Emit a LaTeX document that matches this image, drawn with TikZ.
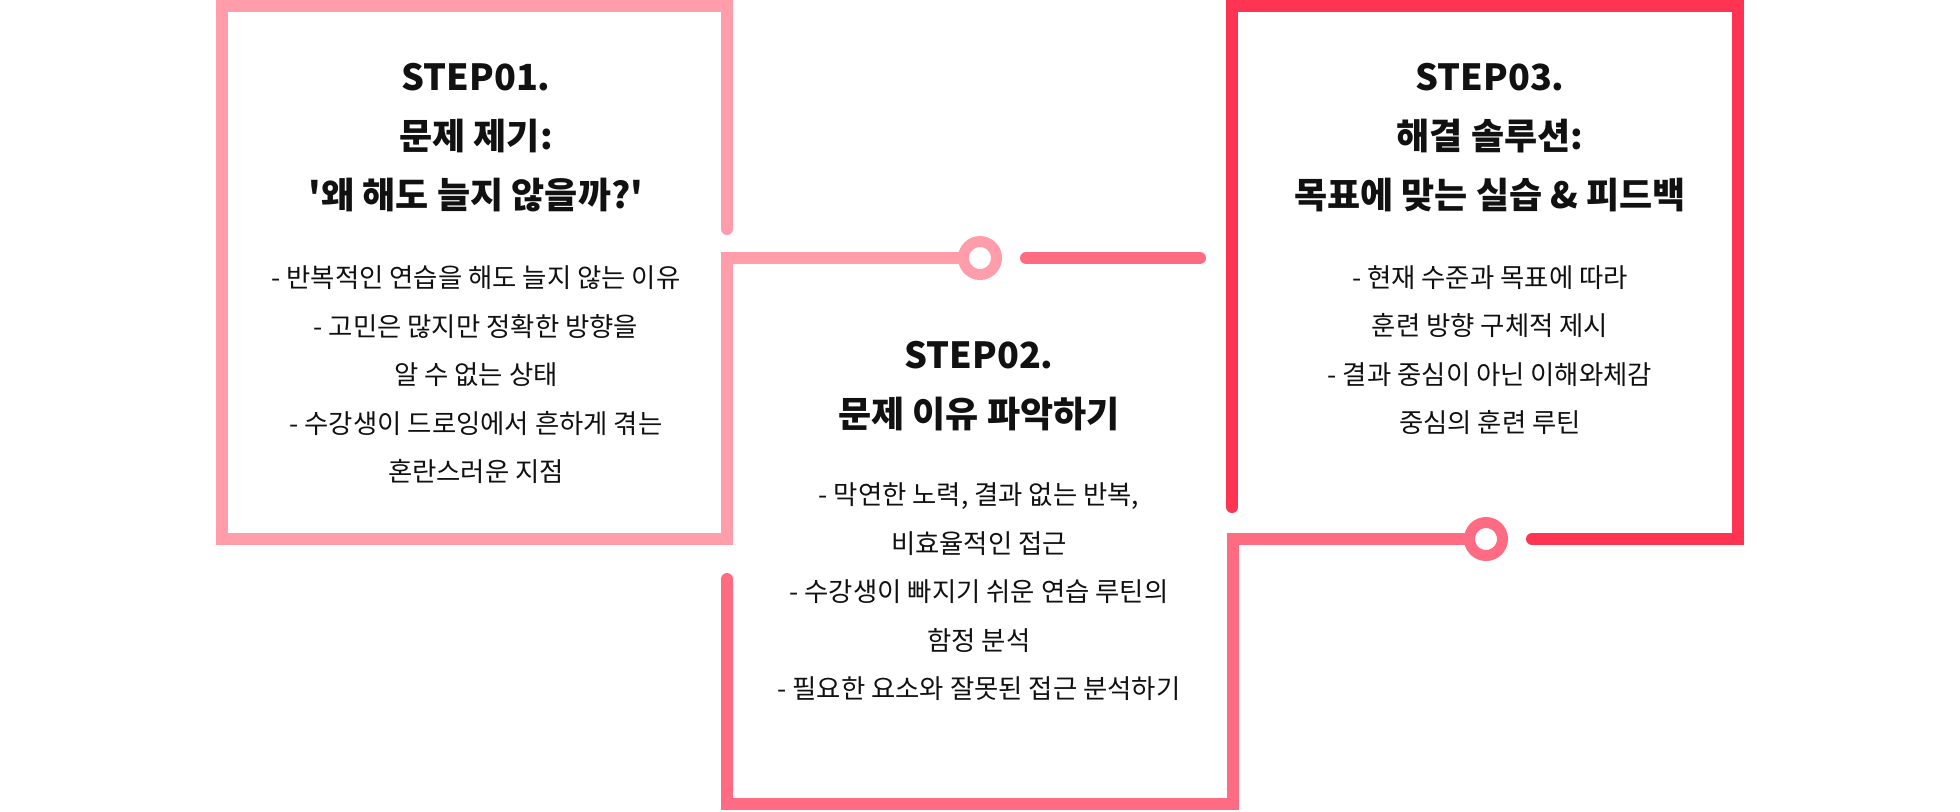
\documentclass[tikz,border=0pt]{standalone}
\usepackage{fontspec}
\usepackage{xcolor}
\newfontfamily\krfont{Noto Sans CJK KR}

\definecolor{stepA}{HTML}{FF9DAB}
\definecolor{stepB}{HTML}{FF6B82}
\definecolor{stepC}{HTML}{FF3453}
\definecolor{ink}{HTML}{111111}

\begin{document}
\begin{tikzpicture}[x=0.5pt, y=-0.5pt,
    wire/.style={line width=6pt, line cap=round, line join=miter},
    ring/.style={circle, draw=#1, line width=5.5pt, minimum size=16.5pt, inner sep=0pt, fill=white},
    steptitle/.style={align=center, text=ink, font=\krfont\fontsize{18pt}{29.5pt}\selectfont\bfseries},
    stepbody/.style={align=center, text=ink, font=\krfont\fontsize{13.2pt}{24.25pt}\selectfont}]
    \useasboundingbox (0,0) rectangle (1960,811);

    % STEP 01: PROBLEM
    \coordinate (a0) at (727,229);
    \coordinate (a1) at (727,6);
    \coordinate (a2) at (222,6);
    \coordinate (a3) at (222,539);
    \coordinate (a4) at (727,539);
    \coordinate (a5) at (727,258);
    \node[ring=stepA] (ring1) at (980,258) {};
    \draw[wire, stepA] (a0) -- (a1) -- (a2) -- (a3) -- (a4) -- (a5) -- (ring1);

    \node[steptitle] (title1) at (476,138) {STEP01.\\문제 제기:\\'왜 해도 늘지 않을까?'};
    \node[stepbody] (body1) at (476,375) {- 반복적인 연습을 해도 늘지 않는 이유\\- 고민은 많지만 정확한 방향을\\알 수 없는 상태\\- 수강생이 드로잉에서 흔하게 겪는\\혼란스러운 지점};

    % STEP 02: CAUSE
    \coordinate (s0) at (1026,258);
    \coordinate (s1) at (1200,258);
    \draw[wire, stepB] (s0) -- (s1);

    \coordinate (b0) at (727,579);
    \coordinate (b1) at (727,804);
    \coordinate (b2) at (1233,804);
    \coordinate (b3) at (1233,539);
    \node[ring=stepB] (ring2) at (1486,539) {};
    \draw[wire, stepB] (b0) -- (b1) -- (b2) -- (b3) -- (ring2);

    \node[steptitle] (title2) at (979,386) {STEP02.\\문제 이유 파악하기};
    \node[stepbody] (body2) at (979,592) {- 막연한 노력, 결과 없는 반복,\\비효율적인 접근\\- 수강생이 빠지기 쉬운 연습 루틴의\\함정 분석\\- 필요한 요소와 잘못된 접근 분석하기};

    % STEP 03: SOLUTION
    \coordinate (c0) at (1532,539);
    \coordinate (c1) at (1738,539);
    \coordinate (c2) at (1738,6);
    \coordinate (c3) at (1232,6);
    \coordinate (c4) at (1232,507);
    \draw[wire, stepC] (c0) -- (c1) -- (c2) -- (c3) -- (c4);

    \node[steptitle] (title3) at (1490,138) {STEP03.\\해결 솔루션:\\목표에 맞는 실습 \& 피드백};
    \node[stepbody] (body3) at (1490,350) {- 현재 수준과 목표에 따라\\훈련 방향 구체적 제시\\- 결과 중심이 아닌 이해와체감\\중심의 훈련 루틴};
\end{tikzpicture}
\end{document}
